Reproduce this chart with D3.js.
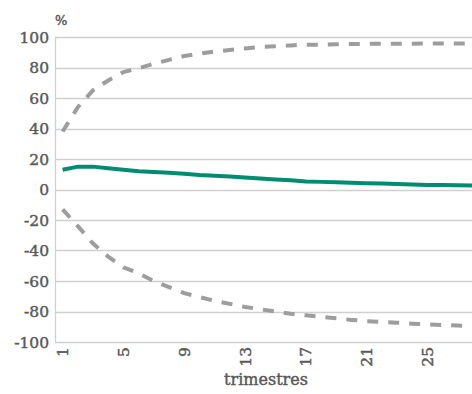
<!DOCTYPE html>
<html><head><meta charset="utf-8">
<script src="https://cdn.jsdelivr.net/npm/d3@7"></script>
<style>body{margin:0;background:#fff;} svg{display:block;}</style>
</head><body>
<svg id="c" width="472" height="394"></svg>
<script>
const quarters = d3.range(1, 29);
const central = [13,15,15,14,13,12,11.5,11,10.3,9.5,9,8.5,7.8,7.2,6.6,6,5.2,5,4.8,4.4,4.1,3.9,3.6,3.3,3,2.9,2.8,2.6];
const upper = [38,54,65,71.5,77,79.5,82.5,85,87.5,89,90.5,91.5,92.5,93.5,94,94.5,95,95,95.2,95.4,95.5,95.5,95.6,95.6,95.7,95.7,95.7,95.7];
const lower = [-13,-24,-35.5,-44,-51,-55,-60,-64,-68,-70.5,-73,-75,-77,-78.5,-80,-81.5,-82.5,-83.5,-84.5,-85.5,-86.3,-86.8,-87.3,-88,-88.5,-88.8,-89.2,-90];
const yTicks = d3.range(-100, 101, 20);
const xTickLabels = [1,5,9,13,17,21,25];

(function(){
const svg = d3.select("#c");
const mLeft = 55, mTop = 37, mBottom = 342;
const band = 15.2;
const x = d3.scaleBand().domain(quarters).range([mLeft, mLeft + band*quarters.length]).paddingInner(0).paddingOuter(0);
const y = d3.scaleLinear().domain([-100, 100]).range([mBottom, mTop]);
const font = "'DejaVu Serif', serif";
const txt = "#595959";
const styleText = s => s.attr("font-family", font).attr("fill", txt)
  .attr("stroke", txt).attr("stroke-width", 0.45).attr("paint-order", "stroke");

svg.append("g").selectAll("line").data(yTicks).join("line")
  .attr("x1", mLeft).attr("x2", 472)
  .attr("y1", d => Math.round(y(d)) + 0.5).attr("y2", d => Math.round(y(d)) + 0.5)
  .attr("stroke", "#d0d0d0").attr("stroke-width", 1.3);
svg.append("line").attr("x1", mLeft + 0.5).attr("x2", mLeft + 0.5).attr("y1", y(100)).attr("y2", y(-100))
  .attr("stroke", "#d0d0d0").attr("stroke-width", 1.3);

svg.append("g").selectAll("text").data(yTicks).join("text")
  .attr("x", mLeft - 6).attr("y", d => y(d)).attr("dy", "0.36em")
  .attr("text-anchor", "end").attr("font-size", 15.5).call(styleText).text(d => d);

svg.append("text").attr("x", 55).attr("y", 25).attr("font-size", 13).call(styleText).text("%");

svg.append("g").selectAll("text").data(xTickLabels).join("text")
  .attr("transform", d => `translate(${x(d) + x.bandwidth()/2},${mBottom + 5}) rotate(-90)`)
  .attr("dy", "0.36em").attr("text-anchor", "end").attr("font-size", 15.5).call(styleText)
  .text(d => d);

svg.append("text").attr("x", 266).attr("y", 385).attr("text-anchor", "middle")
  .attr("font-size", 16).call(styleText).text("trimestres");

const line = d3.line().x((d, i) => x(quarters[i]) + x.bandwidth()/2).y(d => y(d));

svg.append("path").datum(upper).attr("d", line).attr("fill", "none")
  .attr("stroke", "#9d9d9f").attr("stroke-width", 4).attr("stroke-dasharray", "11,10");
svg.append("path").datum(lower).attr("d", line).attr("fill", "none")
  .attr("stroke", "#9d9d9f").attr("stroke-width", 4).attr("stroke-dasharray", "11,10");
svg.append("path").datum(central).attr("d", line).attr("fill", "none")
  .attr("stroke", "#008c73").attr("stroke-width", 4);
})();
</script>
</body></html>
